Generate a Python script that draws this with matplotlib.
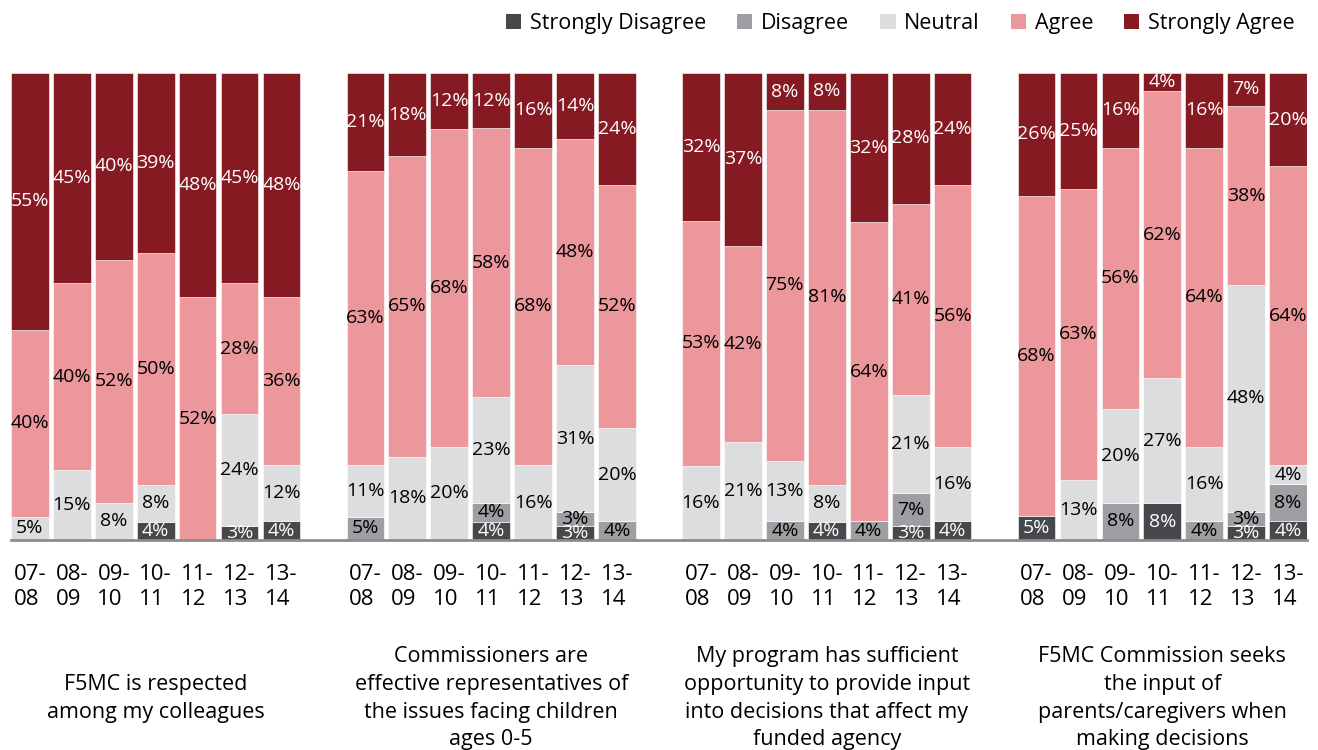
import matplotlib.pyplot as plt
import matplotlib.transforms as mtransforms
from matplotlib.patches import Patch

plt.rcParams['font.family'] = ['Open Sans', 'DejaVu Sans']

years = ["07-\n08", "08-\n09", "09-\n10", "10-\n11", "11-\n12", "12-\n13", "13-\n14"]
levels = ["Strongly Disagree", "Disagree", "Neutral", "Agree", "Strongly Agree"]
colors = ["#47484c", "#9d9fa2", "#dcdddf", "#eb979c", "#861a22"]
text_colors = ["white", "black", "black", "black", "white"]

titles = [
    "F5MC is respected\namong my colleagues",
    "Commissioners are\neffective representatives of\nthe issues facing children\nages 0-5",
    "My program has sufficient\nopportunity to provide input\ninto decisions that affect my\nfunded agency",
    "F5MC Commission seeks\nthe input of\nparents/caregivers when\nmaking decisions",
]

# percentages per year: [strongly disagree, disagree, neutral, agree, strongly agree]
respected = [[0, 0, 5, 40, 55], [0, 0, 15, 40, 45], [0, 0, 8, 52, 40], [4, 0, 8, 50, 39],
             [0, 0, 0, 52, 48], [3, 0, 24, 28, 45], [4, 0, 12, 36, 48]]
commissioners = [[0, 5, 11, 63, 21], [0, 0, 18, 65, 18], [0, 0, 20, 68, 12], [4, 4, 23, 58, 12],
                 [0, 0, 16, 68, 16], [3, 3, 31, 48, 14], [0, 4, 20, 52, 24]]
program_input = [[0, 0, 16, 53, 32], [0, 0, 21, 42, 37], [0, 4, 13, 75, 8], [4, 0, 8, 81, 8],
                 [0, 4, 0, 64, 32], [3, 7, 21, 41, 28], [4, 0, 16, 56, 24]]
parents_input = [[5, 0, 0, 68, 26], [0, 0, 13, 63, 25], [0, 8, 20, 56, 16], [8, 0, 27, 62, 4],
                 [0, 4, 16, 64, 16], [3, 3, 48, 38, 7], [4, 8, 4, 64, 20]]
groups = [respected, commissioners, program_input, parents_input]

fig = plt.figure(figsize=(13.18, 7.5), dpi=100)
ax = fig.add_axes([0.0083, 0.28, 0.9834, 0.6227])
ax.set_xlim(-0.45, 30.45)
ax.set_ylim(0, 100)
title_trans = mtransforms.blended_transform_factory(ax.transData, fig.transFigure)

ticks, ticklabels = [], []
for g, data in enumerate(groups):
    for i, row in enumerate(data):
        x = g * 8 + i
        ticks.append(x)
        ticklabels.append(years[i])
        # rounded answers can sum to 99 or 101; each column is stacked to 100%
        scale = 100 / sum(row)
        bottom = 0
        for k, v in enumerate(row):
            if v == 0:
                continue
            h = v * scale
            ax.bar(x, h, bottom=bottom, width=0.9, color=colors[k],
                   edgecolor="white", linewidth=0.4)
            ax.text(x, bottom + h / 2, f"{v}%", ha="center", va="center",
                    fontsize=14, color=text_colors[k], clip_on=True)
            bottom += h
    ax.text(g * 8 + 3, 0.069, titles[g], transform=title_trans, ha="center",
            va="center", fontsize=15.5, linespacing=1.42, clip_on=False)

ax.set_xticks(ticks)
ax.set_xticklabels(ticklabels, fontsize=16, multialignment="left", linespacing=1.25)
ax.tick_params(axis="x", length=0, pad=17)
ax.set_yticks([])
for side in ["top", "right", "left"]:
    ax.spines[side].set_visible(False)
ax.spines["bottom"].set_color("#8c8c8c")
ax.spines["bottom"].set_linewidth(2)
ax.spines["bottom"].set_zorder(5)

handles = [Patch(facecolor=c, edgecolor="none") for c in colors]
fig.legend(handles, levels, ncol=5, loc="upper right", bbox_to_anchor=(0.997, 1.008),
           frameon=False, fontsize=15.5, handlelength=0.7, handleheight=0.7,
           handletextpad=0.4, columnspacing=1.45)

fig.savefig("out.png", dpi=100)
